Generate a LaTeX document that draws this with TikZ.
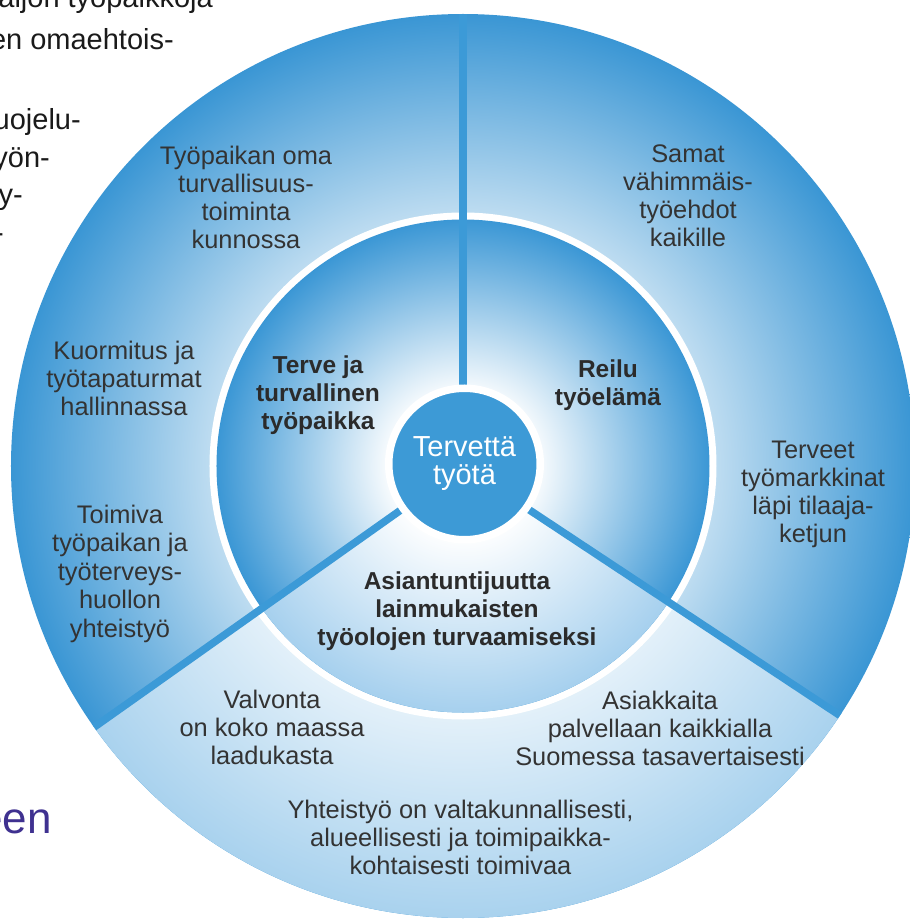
\documentclass[tikz,border=0pt]{standalone}
\usepackage{fontspec}
\setmainfont{Liberation Sans}
\definecolor{ringdark}{HTML}{3A96D4}
\definecolor{discdark}{HTML}{3B97D5}
\definecolor{ringlight}{HTML}{A9D2EE}
\definecolor{disclight}{HTML}{A6D0EE}
\definecolor{spokeblue}{HTML}{3C9AD7}
\definecolor{hubblue}{HTML}{3D9AD6}
\definecolor{txt}{HTML}{333333}
\definecolor{txtbold}{HTML}{2B2B2B}
\definecolor{fragtxt}{HTML}{1A1A1A}
\definecolor{purpletxt}{HTML}{3F3190}
\pgfdeclareradialshading{ringdarkshade}{\pgfpoint{0bp}{0bp}}{color(0bp)=(white); color(8.5bp)=(white); color(25bp)=(ringdark); color(50bp)=(ringdark)}
\pgfdeclareradialshading{ringlightshade}{\pgfpoint{0bp}{0bp}}{color(0bp)=(white); color(8.5bp)=(white); color(25bp)=(ringlight); color(50bp)=(ringlight)}
\pgfdeclareradialshading{discdarkshade}{\pgfpoint{0bp}{0bp}}{color(0bp)=(white); color(7bp)=(white); color(25bp)=(discdark); color(50bp)=(discdark)}
\pgfdeclareradialshading{disclightshade}{\pgfpoint{0bp}{0bp}}{color(0bp)=(white); color(7bp)=(white); color(25bp)=(disclight); color(50bp)=(disclight)}
\begin{document}
\begin{tikzpicture}[x=1pt,y=1pt,
  lbl/.style={anchor=north, align=center, inner sep=0pt, text=txt, font=\fontsize{25.4}{28}\selectfont},
  lblb/.style={anchor=north, align=center, inner sep=0pt, text=txtbold, font=\bfseries\fontsize{24.5}{28}\selectfont},
  frag/.style={anchor=base east, inner sep=0pt, text=fragtxt, font=\fontsize{29}{37}\selectfont},
  spokeline/.style={draw=spokeblue, line width=7.5pt, line cap=butt},
  hubstyle/.style={circle, fill=hubblue, draw=white, line width=7.5pt, minimum size=151.5pt, inner sep=0pt, align=center, text=white, font=\fontsize{29}{28}\selectfont}
]
\useasboundingbox (-463,-453) rectangle (447,466);
\fill[white] (-463,-453) rectangle (447,466);

% outer ring
\shade[shading=ringdarkshade] (0,0) circle (452);
\begin{scope}
  \clip (0,0) -- (215.3:480) arc[start angle=215.3, end angle=326.5, radius=480] -- cycle;
  \shade[shading=ringlightshade] (0,0) circle (452);
\end{scope}
% white gap
\fill[white] (0,0) circle (253.5);
% inner disc
\shade[shading=discdarkshade] (0,0) circle (246.5);
\begin{scope}
  \clip (0,0) -- (215.3:480) arc[start angle=215.3, end angle=326.5, radius=480] -- cycle;
  \shade[shading=disclightshade] (0,0) circle (246.5);
\end{scope}

% spokes
\coordinate (c) at (0,0);
\coordinate (spokeN) at (90:470);
\coordinate (spokeL) at (215.3:470);
\coordinate (spokeR) at (-33.5:470);
\begin{scope}
  \clip (0,0) circle (452);
  \draw[spokeline] (c) -- (spokeN);
  \draw[spokeline] (c) -- (spokeL);
  \draw[spokeline] (c) -- (spokeR);
\end{scope}

% hub
\node[hubstyle] (hub) at (1.5,2) {Tervettä\\työtä};

% inner labels
\node[lblb] (terve) at (-145,110.5) {Terve ja\\turvallinen\\työpaikka};
\node[lblb] (reilu) at (145,106.5) {Reilu\\työelämä};
\node[lblb] (asiant) at (-6,-105.5) {Asiantuntijuutta\\lainmukaisten\\työolojen turvaamiseksi};

% outer labels
\node[lbl] (tyopaikan) at (-217,320.2) {Työpaikan oma\\turvallisuus-\\toiminta\\kunnossa};
\node[lbl] (samat) at (225,321.2) {Samat\\vähimmäis-\\työehdot\\kaikille};
\node[lbl] (kuormitus) at (-339,125.2) {Kuormitus ja\\työtapaturmat\\hallinnassa};
\node[lbl, font=\fontsize{25.4}{28.5}\selectfont] (toimiva) at (-343,-38.8) {Toimiva\\työpaikan ja\\työterveys-\\huollon\\yhteistyö};
\node[lbl] (terveet) at (350,25.2) {Terveet\\työmarkkinat\\läpi tilaaja-\\ketjun};
\node[lbl] (valvonta) at (-191,-223.8) {Valvonta\\on koko maassa\\laadukasta};
\node[lbl] (asiakkaita) at (197,-224.8) {Asiakkaita\\palvellaan kaikkialla\\Suomessa tasavertaisesti};
\node[lbl] (yhteistyo) at (-2.5,-333.8) {Yhteistyö on valtakunnallisesti,\\alueellisesti ja toimipaikka-\\kohtaisesti toimivaa};

% cut-off page text
\begin{scope}
  \clip (-463,-453) rectangle (447,466);
  \node[frag] (f1) at (-250,458) {aljon työpaikkoja};
  \node[frag] (f2) at (-289,416) {en omaehtois-};
  \node[frag] (f3) at (-382,336) {uojelu-};
  \node[frag] (f4) at (-413,298.5) {yön-};
  \node[frag] (f5) at (-440,261) {y-};
  \node[frag] (f6) at (-459,223) {-};
  \node[anchor=base east, inner sep=0pt, text=purpletxt, font=\fontsize{44}{50}\selectfont] (f7) at (-411,-367) {een};
\end{scope}
\end{tikzpicture}
\end{document}
